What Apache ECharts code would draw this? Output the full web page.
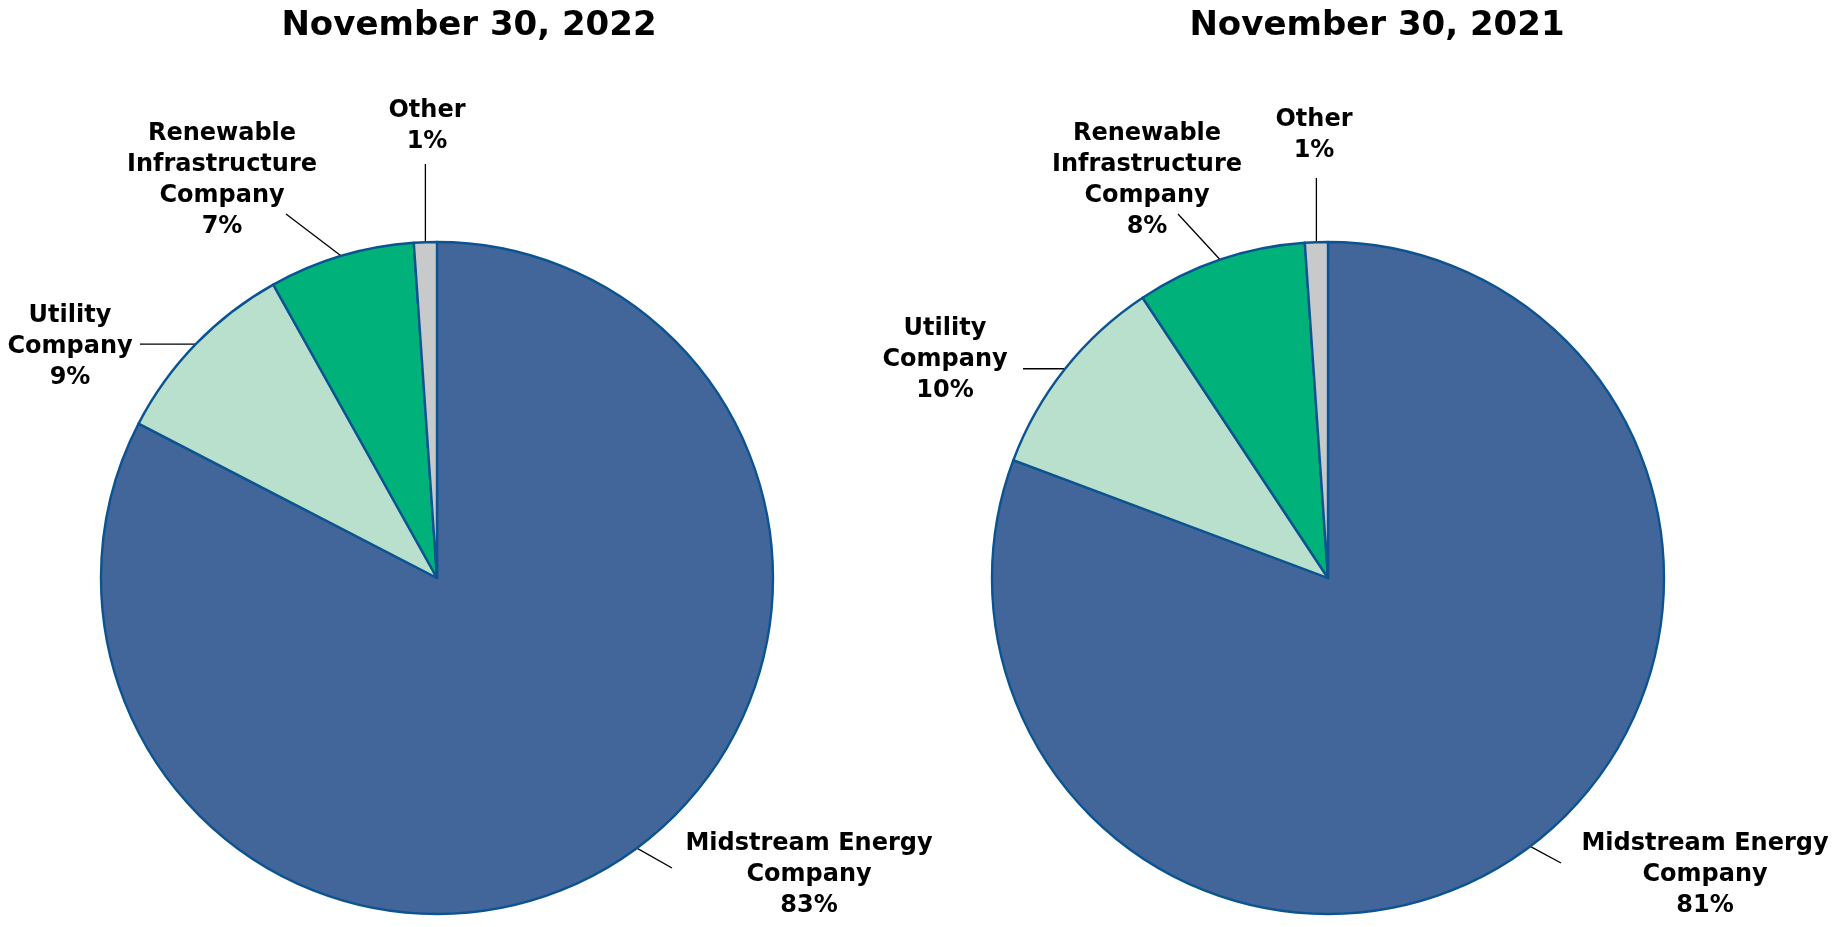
<!DOCTYPE html>
<html>
<head>
<meta charset="utf-8">
<script src="https://cdn.jsdelivr.net/npm/echarts@6/dist/echarts.min.js"></script>
<style>
html,body{margin:0;padding:0;background:#ffffff;}
#chart{width:1833px;height:927px;}
</style>
</head>
<body>
<div id="chart"></div>
<script>
// ---- data ----
const categories = ['Midstream Energy\nCompany', 'Utility\nCompany', 'Renewable\nInfrastructure\nCompany', 'Other'];
const titles = ['November 30, 2022', 'November 30, 2021'];
const values2022 = [82.6, 9.3, 7.0, 1.1];
const values2021 = [80.7, 10.0, 8.2, 1.1];

// ---- styles / layout ----
const sliceColors = ['#426699', '#b9e0cc', '#00b27a', '#c8c9cb'];
const FONT = '"DejaVu Sans", "Liberation Sans", Arial, sans-serif';
const pies = [
  { center: [437, 578], radius: 336, titleX: 469 },
  { center: [1328, 578], radius: 336, titleX: 1377 }
];
// label anchor placement (text block centers) and leader-line rules
const labelPlace = [
  [
    { x: 809, y: 875, kind: 'arc', deg: 143.5, ex: 672, ey: 868 },
    { x: 70, y: 347, kind: 'h', ex: 140 },
    { x: 222, y: 180, kind: 'pt', ex: 286, ey: 214 },
    { x: 427, y: 126, kind: 'v', ey: 164 }
  ],
  [
    { x: 1705, y: 875, kind: 'arc', deg: 143, ex: 1561, ey: 863 },
    { x: 945, y: 360, kind: 'h', ex: 1023 },
    { x: 1147, y: 180, kind: 'pt', ex: 1178, ey: 214 },
    { x: 1314, y: 135, kind: 'v', ey: 178 }
  ]
];

function buildSeries(values, idx) {
  const pie = pies[idx];
  return {
    type: 'pie',
    center: pie.center,
    radius: pie.radius,
    startAngle: 90,
    clockwise: true,
    avoidLabelOverlap: false,
    animation: false,
    emphasis: { disabled: true, scale: false },
    itemStyle: { borderColor: '#0b5491', borderWidth: 2.4 },
    label: {
      show: true,
      position: 'outside',
      color: '#000000',
      fontFamily: FONT,
      fontWeight: 'bold',
      fontSize: 24,
      lineHeight: 31,
      align: 'center',
      formatter: function (p) { return p.name + '\n' + Math.round(p.value) + '%'; }
    },
    labelLine: {
      show: true,
      length: 20,
      length2: 10,
      lineStyle: { color: '#000000', width: 1.3 }
    },
    labelLayout: function (p) {
      const pl = labelPlace[p.seriesIndex][p.dataIndex];
      const out = { x: pl.x, y: pl.y, align: 'center', verticalAlign: 'middle' };
      if (p.labelLinePoints && p.labelLinePoints.length) {
        let s = p.labelLinePoints[0];
        let e;
        if (pl.kind === 'arc') {
          const a = pl.deg * Math.PI / 180;
          s = [pie.center[0] + pie.radius * Math.sin(a), pie.center[1] - pie.radius * Math.cos(a)];
          e = [pl.ex, pl.ey];
        } else if (pl.kind === 'h') e = [pl.ex, s[1]];
        else if (pl.kind === 'v') e = [s[0], pl.ey];
        else e = [pl.ex, pl.ey];
        out.labelLinePoints = [s, e, e];
      }
      return out;
    },
    data: categories.map(function (c, i) {
      return { name: c, value: values[i], itemStyle: { color: sliceColors[i] } };
    })
  };
}

const chart = echarts.init(document.getElementById('chart'), null, { renderer: 'canvas' });
chart.setOption({
  backgroundColor: '#ffffff',
  animation: false,
  graphic: titles.map(function (t, i) {
    return {
      type: 'text',
      x: pies[i].titleX,
      y: 26,
      style: {
        text: t,
        align: 'center',
        verticalAlign: 'middle',
        fill: '#000000',
        font: 'bold 34px ' + FONT
      }
    };
  }),
  series: [buildSeries(values2022, 0), buildSeries(values2021, 1)]
});
</script>
</body>
</html>
